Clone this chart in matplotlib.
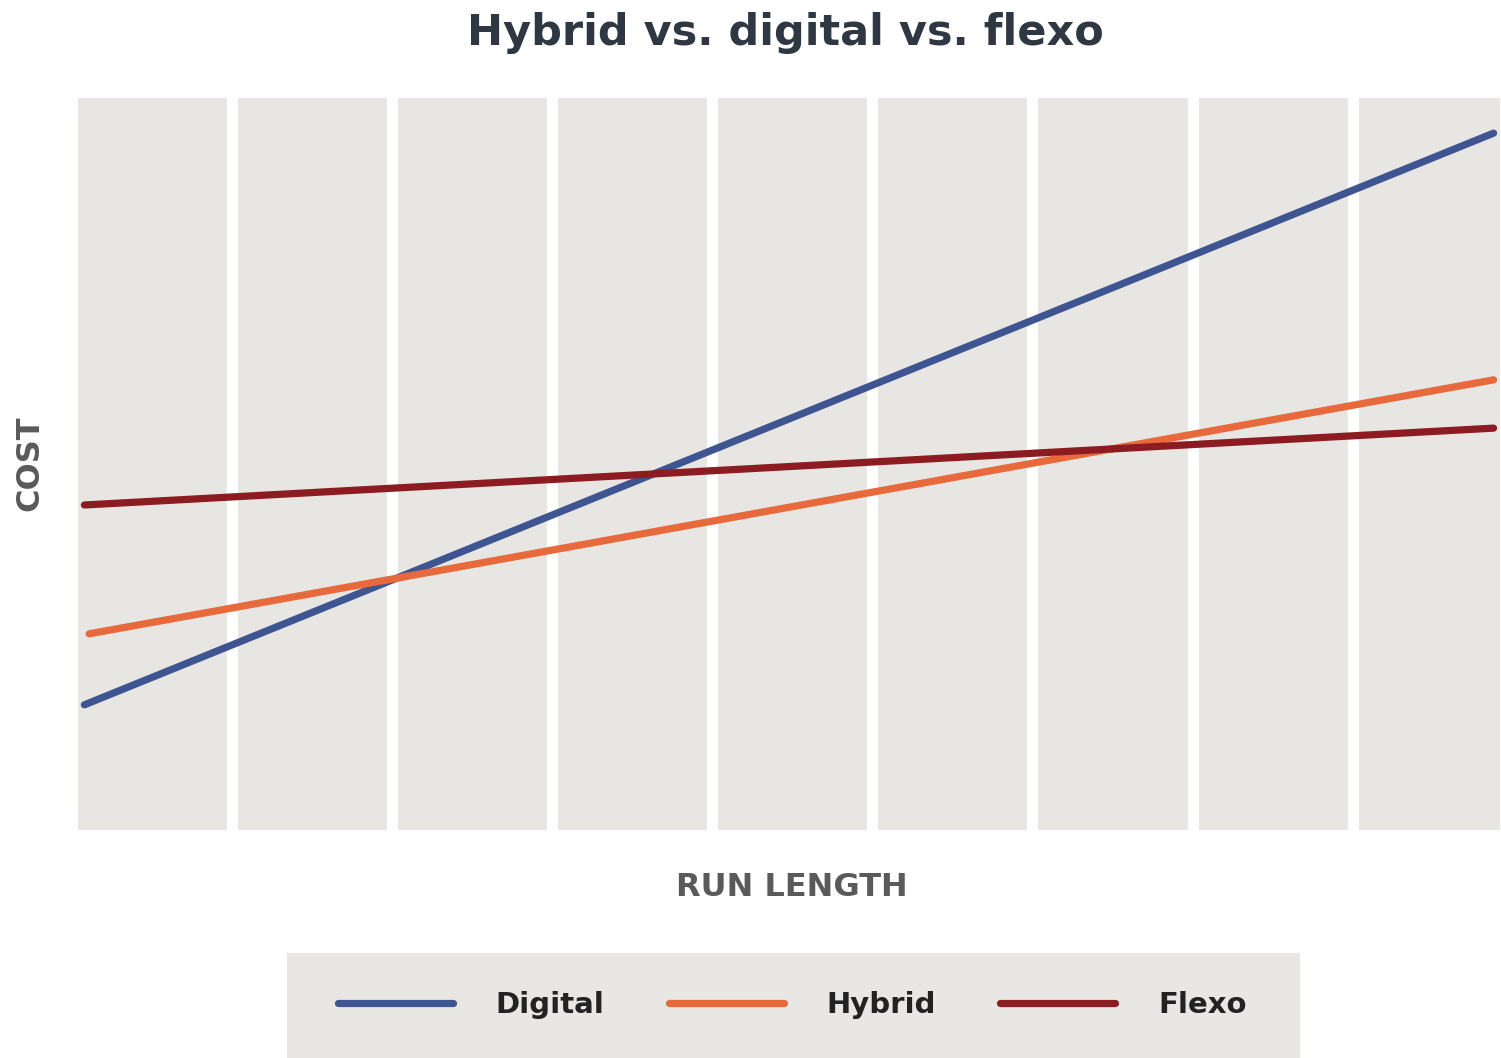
import numpy as np
import matplotlib.pyplot as plt

# run length positions (arbitrary units) and cost values
run_length = [0.08, 8.88]
digital = [17.1, 95.2]
hybrid = [26.8, 61.5]
flexo = [44.4, 54.9]
hybrid_x = [0.11, 8.88]

series = [
    ("Digital", run_length, digital, "#3e5591"),
    ("Hybrid", hybrid_x, hybrid, "#e8693b"),
    ("Flexo", run_length, flexo, "#8c1c22"),
]

grid_pos = [1, 2, 3, 4, 5, 6, 7, 8]

fig = plt.figure(figsize=(15.01, 10.58), dpi=100)
W, H = 1501, 1058
ax = fig.add_axes([78 / W, 1 - 830 / H, (1500 - 78) / W, (830 - 98) / H])
ax.set_facecolor("#e7e6e2")
for s in ax.spines.values():
    s.set_visible(False)
ax.set_xlim(0.04, 8.92)
ax.set_ylim(0, 100)
ax.set_xticks([])
ax.set_yticks([])

for g in grid_pos:
    ax.axvline(g, color="white", lw=8, zorder=1)

for name, xs, ys, c in series:
    ax.plot(xs, ys, color=c, lw=5.2, solid_capstyle="round", label=name, zorder=3)

fig.text(785 / W, 1 - 45 / H, "Hybrid vs. digital vs. flexo", ha="center", va="baseline",
         fontsize=31, fontweight="bold", color="#2e3742")
fig.text(30 / W, 1 - 463 / H, "COST", rotation=90, ha="center", va="center",
         fontsize=23, fontweight="bold", color="#5a5a5a")
fig.text(792 / W, 1 - 887 / H, "RUN LENGTH", ha="center", va="center",
         fontsize=23, fontweight="bold", color="#5a5a5a")

# legend panel
fig.patches.append(plt.Rectangle((287 / W, 0), (1300 - 287) / W, (1058 - 953) / H,
                                 transform=fig.transFigure, facecolor="#e8e7e3",
                                 edgecolor="none", zorder=0))
handles, labels = ax.get_legend_handles_labels()
leg = fig.legend(handles, labels, loc="center left", bbox_to_anchor=(338 / W, 1 - 1005 / H),
                 ncol=3, frameon=False, borderpad=0, borderaxespad=0,
                 handlelength=3.94, handletextpad=1.47, columnspacing=2.2,
                 prop={"weight": "bold", "size": 21})
for t in leg.get_texts():
    t.set_color("#222222")

fig.savefig("out.png", dpi=100)
